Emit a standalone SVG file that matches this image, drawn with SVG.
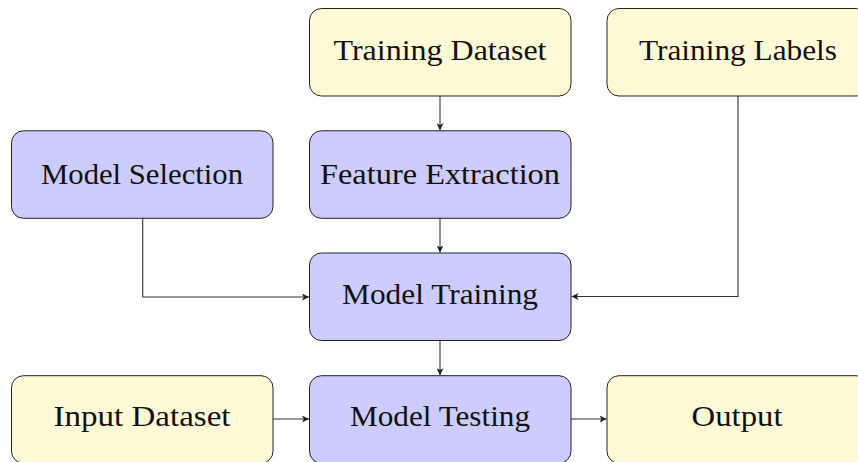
<svg xmlns="http://www.w3.org/2000/svg" width="858" height="462" viewBox="0 0 858 462">
<style>
.box{stroke:#222;stroke-width:1}
.y{fill:#FFF9D6}
.b{fill:#CCCCFF}
.t{font-family:"Liberation Serif","DejaVu Serif",serif;font-size:29px;fill:#111;text-anchor:middle}
.c{fill:none;stroke:#333;stroke-width:1.1}
</style>
<defs>
<marker id="ah" viewBox="0 0 10 10" refX="10" refY="5" markerWidth="7" markerHeight="7" markerUnits="userSpaceOnUse" orient="auto">
<path d="M0,0 L10,5 L0,10 L2.5,5 Z" fill="#222"/>
</marker>
</defs>
<g id="training-dataset"><rect class="box y" x="309.5" y="8.5" width="261.5" height="87.5" rx="12"/><text class="t" x="440" y="60" textLength="213" lengthAdjust="spacingAndGlyphs">Training Dataset</text></g>
<g id="training-labels"><rect class="box y" x="607" y="8.5" width="261.5" height="87.5" rx="12"/><text class="t" x="738" y="60" textLength="198" lengthAdjust="spacingAndGlyphs">Training Labels</text></g>
<g id="model-selection"><rect class="box b" x="11.5" y="130.8" width="261.5" height="87.5" rx="12"/><text class="t" x="142" y="184" textLength="202" lengthAdjust="spacingAndGlyphs">Model Selection</text></g>
<g id="feature-extraction"><rect class="box b" x="309.5" y="130.8" width="261.5" height="87.5" rx="12"/><text class="t" x="440" y="184" textLength="240" lengthAdjust="spacingAndGlyphs">Feature Extraction</text></g>
<g id="model-training"><rect class="box b" x="309.5" y="253" width="261.5" height="87.5" rx="12"/><text class="t" x="440" y="304" textLength="196" lengthAdjust="spacingAndGlyphs">Model Training</text></g>
<g id="input-dataset"><rect class="box y" x="11.5" y="375.7" width="261.5" height="87.5" rx="12"/><text class="t" x="142" y="426" textLength="177" lengthAdjust="spacingAndGlyphs">Input Dataset</text></g>
<g id="model-testing"><rect class="box b" x="309.5" y="375.7" width="261.5" height="87.5" rx="12"/><text class="t" x="440" y="426" textLength="180" lengthAdjust="spacingAndGlyphs">Model Testing</text></g>
<g id="output"><rect class="box y" x="607" y="375.7" width="261.5" height="87.5" rx="12"/><text class="t" x="737" y="426" textLength="91" lengthAdjust="spacingAndGlyphs">Output</text></g>
<g id="connectors">
<path class="c" d="M440,96 L440,130.3" marker-end="url(#ah)"/>
<path class="c" d="M440,218.3 L440,252.6" marker-end="url(#ah)"/>
<path class="c" d="M142.7,218.3 L142.7,297 L309,297" marker-end="url(#ah)"/>
<path class="c" d="M738,96 L738,296.5 L571.5,296.5" marker-end="url(#ah)"/>
<path class="c" d="M440,340.5 L440,375.3" marker-end="url(#ah)"/>
<path class="c" d="M273,419 L309,419" marker-end="url(#ah)"/>
<path class="c" d="M571,419 L606.6,419" marker-end="url(#ah)"/>
</g>
</svg>
